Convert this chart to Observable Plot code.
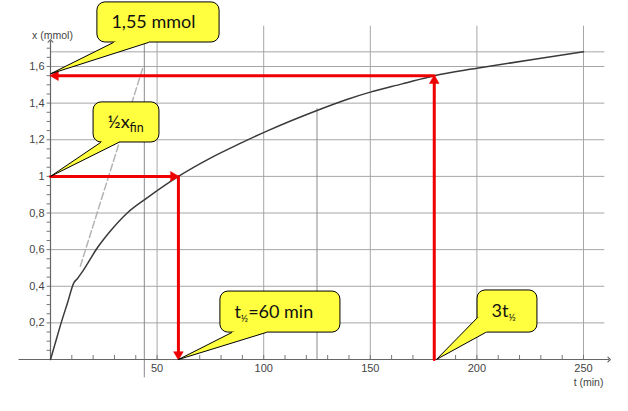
<!DOCTYPE html>
<html><head><meta charset="utf-8">
<script src="https://cdn.jsdelivr.net/npm/d3@7"></script>
<script src="https://cdn.jsdelivr.net/npm/@observablehq/plot@0.6"></script>
<style>html,body{margin:0;padding:0;background:#fff;}#chart{width:628px;height:411px;overflow:hidden}</style>
</head><body><div id="chart"></div>
<script>
// ---- data ----
const curveT = [0, 2, 5, 8, 11, 12.5, 15, 22, 28, 36, 45, 60, 75, 89, 102, 125, 139, 150, 165, 180, 200, 227, 250];
const curveX = [0, 0.08, 0.2, 0.31, 0.42, 0.44, 0.48, 0.61, 0.70, 0.80, 0.88, 1.0, 1.10, 1.18, 1.25, 1.36, 1.42, 1.46, 1.505, 1.55, 1.59, 1.64, 1.68];
const xTicks = [50, 100, 150, 200, 250];
const xTickLabels = ["50", "100", "150", "200", "250"];
const yTicks = [0.2, 0.4, 0.6, 0.8, 1, 1.2, 1.4, 1.6];
const yTickLabels = ["0,2", "0,4", "0,6", "0,8", "1", "1,2", "1,4", "1,6"];
const xMinorTicks = d3.range(10, 251, 10);
const yMinorTicks = d3.range(0.05, 1.71, 0.05);
const asymptoteX = 1.68;
const tangentT = [14, 43.5];
const tangentX = [0.51, 1.60];
const handT = [44, 125];
const handBottom = [-0.1, 0];
const handTop = [1.82, 1.37];
const gridTop = 1.82;
const gridRight = 260;
const xAxisExtent = [-15, 262];
const yAxisExtent = [0, 1.74];
const halfLife = [60, 1.0];      // t½ , ½ x_fin
const threeHalf = [180, 1.55];   // 3t½ , x
// callouts (data coordinates)
const calloutLabels = ["1,55 mmol", "½x_{fin}", "t_{½}=60 min", "3t_{½}"];
const calloutBoxT = [[22, 79.3], [20.2, 51.1], [79.7, 136], [200.3, 228.4]];
const calloutBoxX = [[1.731, 1.95], [1.185, 1.404], [0.147, 0.371], [0.147, 0.377]];
const calloutTip = [[0, 1.56], [0, 1.0], [60, 0], [181, 0]];
const calloutBaseA = [[29.5, 1.731], [23.5, 1.185], [85, 0.147], [200.3, 0.229]];
const calloutBaseB = [[45.9, 1.731], [31.9, 1.185], [101, 0.147], [204, 0.147]];

// ---- build ----
const RED = "#ee0000", YEL = "#ffff40", GRID = "#a6a6a6";
const curve = curveT.map((t, i) => ({t, x: curveX[i]}));
const tangent = tangentT.map((t, i) => ({t, x: tangentX[i]}));

const redSegs = [
  {t1: 0, x1: halfLife[1], t2: halfLife[0], x2: halfLife[1]},
  {t1: halfLife[0], x1: halfLife[1], t2: halfLife[0], x2: 0},
  {t1: threeHalf[0], x1: 0, t2: threeHalf[0], x2: threeHalf[1]},
  {t1: threeHalf[0], x1: threeHalf[1], t2: 0, x2: threeHalf[1]}
];
const headSpec = {right: [90, -5, 0], down: [180, 0, -5], up: [0, 0, 5], left: [-90, 5, 0]};
const heads = [
  {t: halfLife[0], x: halfLife[1], dir: "right"},
  {t: halfLife[0], x: 0, dir: "down"},
  {t: threeHalf[0], x: threeHalf[1], dir: "up"},
  {t: 0, x: threeHalf[1], dir: "left"}
];

const boxes = calloutLabels.map((label, i) => ({
  label, t1: calloutBoxT[i][0], t2: calloutBoxT[i][1], x1: calloutBoxX[i][0], x2: calloutBoxX[i][1]
}));
const wedgeFill = [], wedgeLine = [];
calloutLabels.forEach((label, i) => {
  const cT = (calloutBoxT[i][0] + calloutBoxT[i][1]) / 2, cX = (calloutBoxX[i][0] + calloutBoxX[i][1]) / 2;
  [calloutBaseA[i], calloutTip[i], calloutBaseB[i], [cT, cX]].forEach(p => wedgeFill.push({id: i, t: p[0], x: p[1]}));
  [calloutBaseA[i], calloutTip[i], calloutBaseB[i]].forEach(p => wedgeLine.push({id: i, t: p[0], x: p[1]}));
});

const marks = [
  Plot.ruleY(yTicks.concat([asymptoteX]), {x1: 0, x2: gridRight, stroke: GRID, strokeWidth: 1}),
  Plot.ruleX(xTicks, {y1: 0, y2: gridTop, stroke: GRID, strokeWidth: 1}),
  Plot.ruleX(handT, {x: d => d, y1: (d, i) => handBottom[i], y2: (d, i) => handTop[i], stroke: "#8a8a8a"}),
  Plot.line(tangent, {x: "t", y: "x", stroke: "#b4b4b4", strokeDasharray: "7,3"}),
  Plot.ruleX(xMinorTicks, {y1: 0, y2: 0.022, stroke: "#777"}),
  Plot.ruleY(yMinorTicks, {x1: -1.6, x2: 0, stroke: "#777"}),
  Plot.link([0], {x1: xAxisExtent[0], x2: xAxisExtent[1], y1: 0, y2: 0, stroke: "#666", strokeWidth: 1.2, markerEnd: "arrow"}),
  Plot.link([0], {x1: 0, x2: 0, y1: yAxisExtent[0], y2: yAxisExtent[1], stroke: "#666", strokeWidth: 1.2, markerEnd: "arrow"}),
  Plot.axisX(xTicks, {tickSize: 0, tickPadding: 5, tickFormat: d => xTickLabels[xTicks.indexOf(d)], fontSize: 11, fill: "#444", label: null}),
  Plot.axisY(yTicks, {tickSize: 0, tickPadding: 6, tickFormat: d => yTickLabels[yTicks.indexOf(d)], fontSize: 11, fill: "#444", label: null}),
  Plot.text(["x (mmol)"], {frameAnchor: "top-left", dx: 2, dy: -35, textAnchor: "middle", fontSize: 10.5, fill: "#444"}),
  Plot.text(["t (min)"], {frameAnchor: "bottom-right", dx: 5, dy: 26, textAnchor: "middle", fontSize: 10.5, fill: "#444"}),
  Plot.line(curve, {x: "t", y: "x", stroke: "#3a3a3a", strokeWidth: 1.5, curve: "monotone-x"}),
  Plot.arrow(redSegs, {x1: "t1", y1: "x1", x2: "t2", y2: "x2", stroke: RED, strokeWidth: 3, headLength: 0, insetEnd: 5})
];
heads.forEach(h => {
  const [rot, dx, dy] = headSpec[h.dir];
  marks.push(Plot.dot([h], {x: "t", y: "x", symbol: "triangle", r: 3.6, fill: RED, stroke: RED, strokeWidth: 0.5, rotate: rot, dx, dy}));
});
marks.push(
  Plot.rect(boxes, {x1: "t1", x2: "t2", y1: "x1", y2: "x2", fill: YEL, stroke: "#000", strokeWidth: 1, rx: 8}),
  Plot.line(wedgeFill, {x: "t", y: "x", z: "id", fill: YEL, stroke: "none"}),
  Plot.line(wedgeLine, {x: "t", y: "x", z: "id", stroke: "#000", strokeWidth: 1}),
  Plot.text(boxes, {x: "t1", y: d => (d.x1 + d.x2) / 2, text: "label", textAnchor: "start", dx: 14, fontSize: 18, fill: "#111", fontFamily: "Lato, sans-serif"})
);

const plot = Plot.plot({
  width: 628, height: 411,
  marginLeft: 50, marginRight: 45, marginTop: 66, marginBottom: 52,
  x: {domain: [0, 250]},
  y: {domain: [0, 1.6]},
  style: {fontFamily: "'Liberation Sans', Arial, sans-serif", background: "#fff", overflow: "visible"},
  marks
});

// subscripts: "_{...}"
plot.querySelectorAll("text").forEach(el => {
  const s = el.textContent;
  if (!s.includes("_{")) return;
  el.textContent = "";
  let prevSub = false;
  s.split(/(_\{[^}]*\})/).forEach(p => {
    if (!p) return;
    const ts = document.createElementNS("http://www.w3.org/2000/svg", "tspan");
    if (p.startsWith("_{")) {
      ts.textContent = p.slice(2, -1);
      ts.setAttribute("font-size", p.includes("½") ? "10" : "12.5");
      ts.setAttribute("dy", "4");
      prevSub = true;
    } else {
      ts.textContent = p;
      if (prevSub) ts.setAttribute("dy", "-4");
      prevSub = false;
    }
    el.appendChild(ts);
  });
});
document.getElementById("chart").appendChild(plot);
</script>
</body></html>
